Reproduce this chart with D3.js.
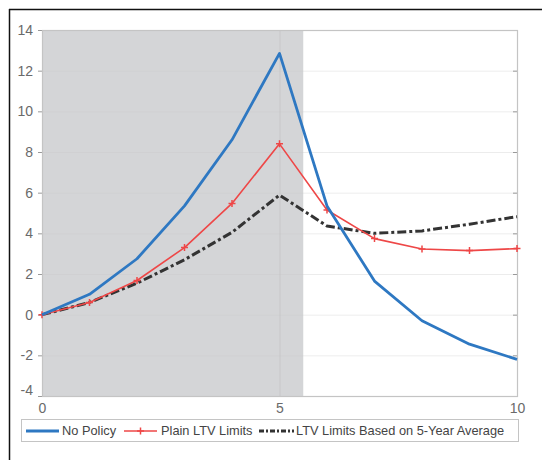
<!DOCTYPE html>
<html><head><meta charset="utf-8">
<script src="https://cdn.jsdelivr.net/npm/d3@7"></script>
<style>body{margin:0;background:#fff;}svg{display:block;font-family:Arial,"Liberation Sans",sans-serif;}</style>
</head><body>
<script>
const years = [0,1,2,3,4,5,6,7,8,9,10];
const noPolicy = [0,1.0,2.75,5.35,8.6,12.85,5.35,1.65,-0.3,-1.45,-2.2];
const plainLTV = [0,0.6,1.68,3.3,5.47,8.4,5.15,3.74,3.23,3.15,3.25];
const ltv5yr = [0,0.6,1.55,2.7,4.05,5.88,4.36,4.0,4.12,4.45,4.82];
const yTicks = [-4,-2,0,2,4,6,8,10,12,14];
const xTicks = [0,5,10];
const shadeRange = [0,5.5];
const seriesNames = ["No Policy","Plain LTV Limits","LTV Limits Based on 5-Year Average"];

const W=542,H=460;
const svg=d3.select("body").append("svg").attr("width",W).attr("height",H);
const L=42,R=517,T=30,B=396;
const x=d3.scaleLinear().domain([0,10]).range([L,R]);
const y=d3.scaleLinear().domain([-4,14]).range([B,T]);

// outer frame (cropped)
svg.append("line").attr("x1",9).attr("x2",W).attr("y1",9.5).attr("y2",9.5).attr("stroke","#111").attr("stroke-width",1.5);
svg.append("line").attr("x1",9.5).attr("x2",9.5).attr("y1",9).attr("y2",H).attr("stroke","#111").attr("stroke-width",1.5);

// shade
svg.append("rect").attr("x",x(shadeRange[0])).attr("y",T).attr("width",x(shadeRange[1])-x(shadeRange[0])).attr("height",B-T).attr("fill","#d4d5d7");

// grid
svg.append("g").selectAll("line").data(yTicks).join("line")
  .attr("x1",L).attr("x2",R).attr("y1",d=>y(d)+0.5).attr("y2",d=>y(d)+0.5)
  .attr("stroke","#c8c8c8").attr("stroke-opacity",0.35).attr("stroke-width",1);
svg.append("g").selectAll("line").data(xTicks).join("line")
  .attr("y1",T).attr("y2",B).attr("x1",d=>x(d)+0.5).attr("x2",d=>x(d)+0.5)
  .attr("stroke","#bdbdbd").attr("stroke-opacity",0.5).attr("stroke-width",1);

// axes
const fmt=d=>String(d);
const yAxis=d3.axisLeft(y).tickValues(yTicks).tickFormat(fmt).tickSize(4).tickPadding(5);
const xAxis=d3.axisBottom(x).tickValues(xTicks).tickFormat(fmt).tickSize(0).tickPadding(7);
const gy=svg.append("g").attr("transform",`translate(${L},0)`).call(yAxis);
const gx=svg.append("g").attr("transform",`translate(0,${B})`).call(xAxis);
[gy,gx].forEach(g=>{
  g.select(".domain").remove();
  g.selectAll("text").attr("fill","#6a6a6a").style("font-size","14px").style("font-family","Arial, 'Liberation Sans', sans-serif");
  g.selectAll(".tick line").attr("stroke","#999");
});
gy.selectAll(".tick").filter(d=>d===-4).select("text").attr("dy","-0.1em");
// right ticks
svg.append("g").selectAll("line").data(yTicks).join("line")
  .attr("x1",R-4).attr("x2",R).attr("y1",d=>y(d)+0.5).attr("y2",d=>y(d)+0.5).attr("stroke","#999");

// box
svg.append("rect").attr("x",L+0.5).attr("y",T+0.5).attr("width",R-L).attr("height",B-T)
  .attr("fill","none").attr("stroke","#c4c4c4").attr("stroke-width",1.2);

const line=d3.line().x((d,i)=>x(years[i])).y(d=>y(d));
const styles=[
  {data:noPolicy,color:"#2e78c2",w:2.8,dash:null},
  {data:plainLTV,color:"#ee4747",w:1.6,dash:null,marker:true},
  {data:ltv5yr,color:"#333333",w:3,dash:"9,3,3,3"}
];
const order=[2,1,0];
order.forEach(k=>{
  const s=styles[k];
  svg.append("path").datum(s.data).attr("d",line).attr("fill","none")
    .attr("stroke",s.color).attr("stroke-width",s.w).attr("stroke-linejoin","round")
    .attr("stroke-dasharray",s.dash);
  if(s.marker){
    const g=svg.append("g");
    s.data.forEach((v,i)=>{
      const cx=x(years[i]),cy=y(v);
      g.append("path").attr("d",`M${cx-3.5},${cy}H${cx+3.5}M${cx},${cy-3.5}V${cy+3.5}`)
        .attr("stroke",s.color).attr("stroke-width",1.5);
    });
  }
});

// legend
const lg=svg.append("g");
lg.append("rect").attr("x",21.5).attr("y",419.5).attr("width",497).attr("height",22)
  .attr("fill","#fff").attr("stroke","#c4c4c4").attr("stroke-width",1);
const items=[
  {x1:26,x2:59,tx:62,s:styles[0]},
  {x1:124,x2:157,tx:161,s:styles[1]},
  {x1:259,x2:294,tx:296,s:styles[2]}
];
items.forEach((it,i)=>{
  lg.append("line").attr("x1",it.x1).attr("x2",it.x2).attr("y1",431).attr("y2",431)
    .attr("stroke",it.s.color).attr("stroke-width",it.s.w).attr("stroke-dasharray",it.s.dash?"5,2,2,2":null);
  if(it.s.marker){
    const cx=(it.x1+it.x2)/2;
    lg.append("path").attr("d",`M${cx-3.5},431H${cx+3.5}M${cx},427.5V434.5`).attr("stroke",it.s.color).attr("stroke-width",1.5);
  }
  lg.append("text").attr("x",it.tx).attr("y",431).attr("dy","0.35em").attr("fill","#444")
    .style("font-size","12.8px").text(seriesNames[i]);
});
</script>
</body></html>
